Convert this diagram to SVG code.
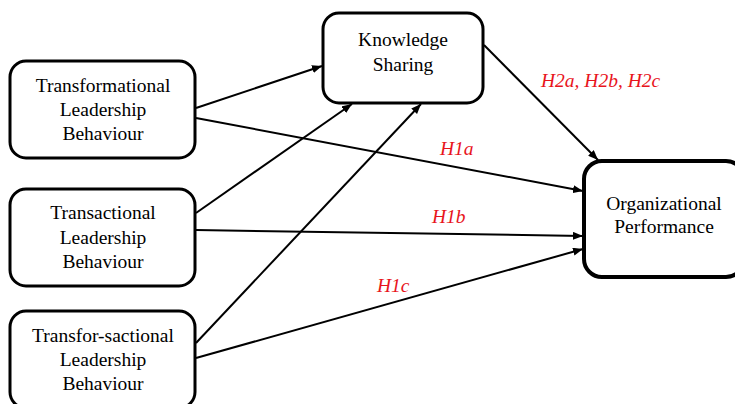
<svg xmlns="http://www.w3.org/2000/svg" width="735" height="404" viewBox="0 0 735 404">
<style>
.box{fill:#fff;stroke:#000;stroke-width:3}
.big{stroke-width:4}
.t{font-size:19.5px;fill:#000;text-anchor:middle}
.h{font-size:19.5px;font-style:italic;fill:#e8141c}
.c{stroke:#000;stroke-width:2;fill:none;marker-end:url(#ah)}
</style>
<defs>
<marker id="ah" viewBox="0 0 10 8" refX="10" refY="4" markerWidth="10" markerHeight="8" markerUnits="userSpaceOnUse" orient="auto">
<path d="M0,0 L10,4 L0,8 Z" fill="#000"/>
</marker>
</defs>
<rect width="735" height="404" fill="#fff"/>
<g id="connectors">
<line class="c" x1="196" y1="108" x2="322" y2="66"/>
<line class="c" x1="196" y1="118" x2="583" y2="191"/>
<line class="c" x1="196" y1="213" x2="352" y2="104"/>
<line class="c" x1="196" y1="230" x2="583" y2="236"/>
<line class="c" x1="196" y1="343" x2="421" y2="104"/>
<line class="c" x1="196" y1="358" x2="583" y2="249"/>
<line class="c" x1="484" y1="45" x2="598" y2="160"/>
</g>
<g font-family="'Liberation Serif', Tinos, 'Times New Roman', 'DejaVu Serif', serif">
<g id="n-transformational">
<rect class="box" x="10" y="61" width="185" height="97" rx="16"/>
<text class="t" x="103" y="92">Transformational</text>
<text class="t" x="103" y="116">Leadership</text>
<text class="t" x="103" y="140">Behaviour</text>
</g>
<g id="n-transactional">
<rect class="box" x="10" y="189" width="185" height="97" rx="16"/>
<text class="t" x="103" y="219">Transactional</text>
<text class="t" x="103" y="244">Leadership</text>
<text class="t" x="103" y="268">Behaviour</text>
</g>
<g id="n-transforsactional">
<rect class="box" x="10" y="311" width="185" height="97" rx="16"/>
<text class="t" x="103" y="342">Transfor-sactional</text>
<text class="t" x="103" y="366">Leadership</text>
<text class="t" x="103" y="390">Behaviour</text>
</g>
<g id="n-knowledge">
<rect class="box" x="323" y="13" width="160" height="90" rx="16"/>
<text class="t" x="403" y="46">Knowledge</text>
<text class="t" x="403" y="71">Sharing</text>
</g>
<g id="n-performance">
<rect class="box big" x="584" y="161" width="160" height="116" rx="18"/>
<text class="t" x="664" y="210">Organizational</text>
<text class="t" x="664" y="233">Performance</text>
</g>
<g id="labels">
<text class="h" x="541" y="87">H2a, H2b, H2c</text>
<text class="h" x="440" y="155">H1a</text>
<text class="h" x="432" y="223">H1b</text>
<text class="h" x="377" y="292">H1c</text>
</g>
</g>
</svg>
